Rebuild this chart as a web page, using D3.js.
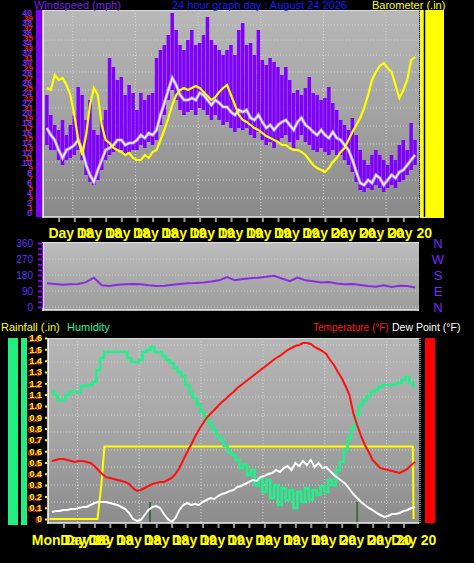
<!DOCTYPE html>
<html><head><meta charset="utf-8">
<script src="https://cdn.jsdelivr.net/npm/d3@7"></script>
<style>body{margin:0;background:#000;}svg{display:block;font-family:"Liberation Sans",Arial,sans-serif;}</style>
</head><body><svg id="c" width="474" height="563"></svg>
<script>
// ---------- DATA ----------
const windGust = [23.6,19.6,17.6,16.6,18.6,15.6,17.6,19.6,25.2,23.6,
18.6,22.6,16.6,15.6,18.6,20.6,31.0,29.2,26.6,27.2,
23.6,25.6,24.0,20.6,24.0,22.6,23.6,24.0,31.0,32.6,
33.6,35.6,40.0,36.6,33.6,32.6,34.6,36.6,33.6,34.0,
35.6,39.2,34.6,33.6,32.6,31.6,32.6,33.6,31.6,36.6,
38.0,33.6,34.0,31.6,36.6,30.6,29.6,31.0,30.2,29.2,
27.6,29.2,26.6,24.0,24.6,23.6,25.0,27.2,24.0,23.6,
22.6,23.0,25.2,22.0,20.6,18.6,17.6,16.6,19.0,15.6,
12.6,10.6,9.6,11.6,12.6,11.6,10.6,9.6,11.6,10.6,
13.6,14.6,12.6,18.0,14.6];
const windAvg = [17.0,15.6,14.6,12.6,11.0,12.6,13.0,13.6,14.6,12.6,
9.6,7.6,6.2,8.6,10.6,12.6,13.0,13.6,14.6,14.6,
13.6,14.0,14.0,14.6,15.6,15.0,16.0,15.6,16.6,19.6,
22.0,24.6,27.0,25.6,23.6,22.6,22.6,23.0,22.6,24.0,
23.6,22.6,21.6,22.6,22.0,21.2,21.2,20.2,19.6,20.6,
20.2,20.6,19.0,18.6,19.6,18.2,17.0,17.6,16.6,17.6,
18.2,18.6,17.6,16.6,18.2,19.0,17.6,17.0,16.2,15.6,
16.6,15.6,15.0,16.2,15.0,14.6,13.6,12.6,10.6,8.2,
6.0,5.6,6.6,6.0,7.6,7.0,5.6,6.6,7.6,7.0,
8.2,8.6,9.6,10.6,11.6];
const windLow = [13.6,12.6,12.6,10.6,9.6,10.6,11.0,11.6,12.6,10.6,
7.6,6.2,5.6,6.6,8.6,10.6,11.6,12.2,12.6,12.6,
11.6,12.2,12.6,12.6,13.6,13.0,14.2,13.6,14.6,17.6,
19.6,22.6,24.6,22.6,20.6,19.6,20.2,20.6,19.6,21.0,
20.6,19.6,18.6,19.6,18.6,17.6,18.2,17.0,16.2,17.0,
16.6,17.0,15.6,15.0,16.2,14.6,13.6,14.2,13.0,14.2,
15.0,15.6,14.2,13.0,14.6,15.6,14.2,13.6,12.6,12.2,
13.0,12.2,11.6,12.6,11.6,11.6,10.6,9.6,8.2,6.2,
4.6,4.2,5.0,4.6,5.6,5.0,4.2,5.0,5.6,5.0,
6.2,6.6,7.6,8.6,9.6];
const barometer = [29.950,29.946,29.976,29.966,29.970,29.956,29.936,29.896,29.846,29.816,
29.856,29.916,29.950,29.936,29.876,29.846,29.840,29.830,29.826,29.822,
29.816,29.820,29.810,29.806,29.806,29.816,29.810,29.822,29.826,29.846,
29.866,29.890,29.916,29.936,29.946,29.950,29.946,29.950,29.954,29.950,
29.942,29.934,29.926,29.932,29.942,29.950,29.956,29.936,29.916,29.896,
29.886,29.882,29.876,29.870,29.866,29.860,29.854,29.850,29.846,29.842,
29.836,29.836,29.830,29.826,29.826,29.822,29.816,29.806,29.796,29.790,
29.786,29.782,29.790,29.802,29.810,29.822,29.830,29.846,29.862,29.876,
29.890,29.910,29.936,29.966,29.982,29.994,30.000,29.990,29.982,29.956,
29.930,29.946,29.966,30.006,30.012];
const windDir = [133,130,125,128,130,140,165,122,118,125,
128,130,128,122,118,120,125,130,133,135,
138,143,150,168,150,158,162,165,170,176,
160,145,165,150,145,138,140,132,128,130,
124,118,114,122,112,120,118,110];
const temperature = [70.5,70.75,71.0,71.0,70.75,70.5,70.25,70.5,70.5,70.25,
70.0,69.25,68.25,67.25,66.5,66.25,66.0,65.75,65.5,65.25,
64.75,63.75,63.0,63.25,63.75,64.25,64.75,65.0,65.25,65.25,
65.75,66.25,67.25,68.75,70.75,72.75,74.5,76.5,78.25,79.75,
81.25,82.25,83.25,84.25,85.25,86.0,87.0,87.75,88.75,89.5,
90.25,91.0,91.75,92.5,93.25,94.0,94.75,95.5,96.25,96.75,
97.5,98.25,98.75,99.25,99.5,100.0,100.0,99.75,99.0,98.5,
98.0,97.25,95.75,94.5,92.75,91.25,89.25,87.0,82.5,79.5,
76.75,74.5,72.75,70.75,69.75,68.75,68.5,68.25,68.0,67.75,
67.5,68.0,68.5,69.5,70.25];
const dewPoint = [57.75,58.0,58.0,58.25,58.25,58.5,58.5,58.75,59.0,59.0,
59.5,60.0,60.25,60.25,60.25,60.0,59.75,59.5,59.0,58.5,
57.5,56.0,55.5,55.75,57.0,58.25,59.0,59.25,58.75,57.25,
56.0,55.25,56.25,58.25,59.5,60.0,59.5,59.75,59.5,60.25,
60.75,61.25,61.0,61.75,62.25,62.5,63.0,63.25,64.0,64.25,
64.75,65.25,65.75,65.5,66.5,66.75,67.25,67.5,68.25,67.75,
68.75,69.25,68.25,70.0,69.25,70.5,69.5,70.75,69.0,70.0,
68.75,69.0,68.0,67.0,66.25,65.5,64.75,63.5,62.25,61.25,
60.25,59.5,58.75,58.25,57.5,57.0,56.5,56.75,57.25,57.25,
57.5,58.0,58.25,58.75,59.0];
const humidity = [71.4,69.2,66.5,66.5,69.2,70.8,70.8,70.8,74.1,74.1,
74.6,76.2,82.7,89.2,92.4,92.4,92.4,92.4,92.4,92.4,
89.2,87.0,87.0,88.1,92.4,93.5,95.1,92.4,92.4,90.3,
88.1,86.5,83.8,81.6,79.5,74.6,70.8,67.6,63.8,60.0,
56.8,53.5,50.3,47.0,44.9,41.6,38.4,36.8,34.1,29.7,
31.4,25.9,28.6,20.5,24.3,16.8,23.2,13.5,20.5,9.7,
18.9,12.4,17.8,8.1,16.8,11.4,18.9,12.4,17.8,15.1,
20.0,16.8,23.2,20.5,28.6,33.0,39.5,45.9,51.4,58.4,
63.8,66.5,68.6,70.8,71.9,73.5,74.6,74.6,74.6,75.1,
75.7,77.3,78.9,75.7,74.1];
const rainHours  = [0.1, 3.2, 3.45, 3.65, 23.6, 23.65];
const rainTotals = [0, 0, 0.30, 0.64, 0.64, 0];
const rainRateHours = [6.6, 20.0];
const rainRate = [0.15, 0.15];

const windTicks = [0,2,4,6,8,10,12,14,16,18,20,22,24,26,28,30,32,34,36,38,40];
const windTicksRed = [1,3,5,7,9,11,13,15,17,19,21,23,25,27,29,31,33,35,37,39];
const dirTicks = [0,90,180,270,360];
const compass = ["N","W","S","E","N"];
const rainTicks = [0,0.1,0.2,0.3,0.4,0.5,0.6,0.7,0.8,0.9,1.0,1.1,1.2,1.3,1.4,1.5,1.6];
const gridHours = [1.9,5.9,9.9,13.9,17.9,21.9];
const topLabelHours = [0.35,2.15,3.95,5.75,7.55,9.35,11.15,12.95,14.75,16.55,18.35,20.15,21.95];
const topLabelText = ["Day 18","Day 18","Day 18","Day 18","Day 19","Day 19","Day 19","Day 19","Day 19","Day 20","Day 20","Day 20","Day 20"];
const botLabelHours = [-1.05,0.8,2.6,4.4,6.2,8.0,9.8,11.6,13.4,15.2,17.0,18.8,20.6,22.2];
const botLabelText = ["Mon Day 18","Day 18","Day 18","Day 18","Day 18","Day 19","Day 19","Day 19","Day 19","Day 19","Day 20","Day 20","Day 20","Day 20"];

// ---------- SETUP ----------
const hours = d3.range(windGust.length).map(i => 0.25 + i * 0.25);
const dirHours = d3.range(windDir.length).map(i => 0.25 + i * 0.5);
const svg = d3.select("#c");
svg.append("rect").attr("width",474).attr("height",563).attr("fill","#000");
const defs = svg.append("defs");
function grad(id, stops){
  const g = defs.append("linearGradient").attr("id",id).attr("x1",0).attr("y1",0).attr("x2",0).attr("y2",1);
  stops.forEach(([o,c]) => g.append("stop").attr("offset",o).attr("stop-color",c));
}
grad("gTop", [[0,"#b8b8b8"],[0.5,"#a3a3a3"],[1,"#898989"]]);
grad("gMid", [[0,"#bdbdbd"],[1,"#9c9c9c"]]);
grad("gBot", [[0,"#b6b6b6"],[0.5,"#a6a6a6"],[1,"#8c8c8c"]]);

const T = {l:43, r:419, t:10, b:217};
const M = {l:43, r:419, t:242, b:310};
const B = {l:48, r:419, t:338, b:523};

const xTop = d3.scaleLinear().domain([0,24]).range([T.l, T.r]);
const yWind = d3.scaleLinear().domain([0,40]).range([213,13]);
const yBaro = d3.scaleLinear().domain([29.70,30.10]).range([213,13]);
const yDir = d3.scaleLinear().domain([0,360]).range([307,243]);
const xBot = d3.scaleLinear().domain([0,24]).range([B.l, B.r]);
const yRain = d3.scaleLinear().domain([0,1.6]).range([519,338]);
const yTemp = d3.scaleLinear().domain([55,101.25]).range([523,338]);
const yHum = d3.scaleLinear().domain([0,100]).range([523,338]);

function clip(id, P){ defs.append("clipPath").attr("id",id).append("rect").attr("x",P.l).attr("y",P.t).attr("width",P.r-P.l).attr("height",P.b-P.t); }
clip("cT",T); clip("cM",M); clip("cB",B);

function panel(P, fill){
  svg.append("rect").attr("x",P.l).attr("y",P.t).attr("width",P.r-P.l).attr("height",P.b-P.t).attr("fill",fill);
}
function vgrid(P, xs){
  svg.append("g").selectAll("line").data(gridHours).join("line")
    .attr("x1",d=>xs(d)).attr("x2",d=>xs(d)).attr("y1",P.t).attr("y2",P.b)
    .attr("stroke","#d4d4d4").attr("stroke-width",1).attr("stroke-dasharray","1,2");
}
function hgrid(P, ys){
  svg.append("g").selectAll("line").data(ys).join("line")
    .attr("x1",P.l).attr("x2",P.r).attr("y1",d=>d).attr("y2",d=>d)
    .attr("stroke","#cfcfcf").attr("stroke-width",1).attr("stroke-dasharray","1,2");
}
function frame(P){
  svg.append("line").attr("x1",P.l).attr("x2",P.l).attr("y1",P.t).attr("y2",P.b+1).attr("stroke","#fff").attr("stroke-width",1.5);
  svg.append("line").attr("x1",P.l).attr("x2",P.r).attr("y1",P.b).attr("y2",P.b).attr("stroke","#f0f0f0").attr("stroke-width",1.5);
  svg.append("line").attr("x1",P.l).attr("x2",P.r).attr("y1",P.t+0.5).attr("y2",P.t+0.5).attr("stroke","#dcdcdc").attr("stroke-width",1);
}

// ---------- TOP PANEL ----------
panel(T, "url(#gTop)");
hgrid(T, [25,40,55,72,90,108,126,144,162,180,198]);
vgrid(T, xTop);
const gT = svg.append("g").attr("clip-path","url(#cT)");
gT.selectAll("rect.g").data(windGust).join("rect").attr("class","g")
  .attr("x",(d,i)=>xTop(hours[i])-1.8).attr("width",3.5)
  .attr("y",d=>yWind(d)).attr("height",(d,i)=>yWind(windLow[i])-yWind(d))
  .attr("fill","#8000ff");
const lineAvg = d3.line().x((d,i)=>xTop(hours[i])).y(d=>yWind(d));
gT.append("path").datum(windAvg).attr("d",lineAvg).attr("fill","none").attr("stroke","#b896f4").attr("stroke-width",3.2);
gT.append("path").datum(windAvg).attr("d",lineAvg).attr("fill","none").attr("stroke","#f4f0ff").attr("stroke-width",1.4);
const lineBaro = d3.line().x((d,i)=>xTop(hours[i])).y(d=>yBaro(d));
gT.append("path").datum(barometer).attr("d",lineBaro).attr("fill","none").attr("stroke","#ffff00").attr("stroke-width",2.2);
frame(T);
svg.append("g").attr("transform",`translate(0,${T.b+1})`)
  .call(d3.axisBottom(xTop).tickValues(d3.range(1,24)).tickFormat("").tickSize(4))
  .call(g=>{g.select(".domain").remove(); g.selectAll("line").attr("stroke","#9a9a9a").attr("stroke-width",2);});
svg.append("rect").attr("x",36).attr("y",T.t).attr("width",6).attr("height",T.b-T.t).attr("fill","#8000ff");
const axWr = svg.append("g").attr("transform","translate(35,0)")
  .call(d3.axisLeft(yWind).tickValues(windTicksRed).tickSize(0).tickFormat(d3.format("d")));
axWr.select(".domain").remove();
axWr.selectAll("text").attr("fill","#ff2020").attr("font-size",8).attr("dx",1).attr("font-weight","bold");
const axW = svg.append("g").attr("transform","translate(35,0)")
  .call(d3.axisLeft(yWind).tickValues(windTicks).tickSize(0).tickFormat(d3.format("d")));
axW.select(".domain").remove();
axW.selectAll("text").attr("fill","#7a28ff").attr("font-size",9).attr("font-weight","bold");
svg.append("rect").attr("x",420).attr("y",T.t).attr("width",24).attr("height",T.b-T.t+1).attr("fill","#ffff00");
svg.append("line").attr("x1",424.5).attr("x2",424.5).attr("y1",T.t).attr("y2",T.b).attr("stroke","#000").attr("stroke-width",1.5);
svg.append("line").attr("x1",420).attr("x2",420).attr("y1",T.t).attr("y2",T.b).attr("stroke","#fff").attr("stroke-dasharray","1,1");
svg.append("text").attr("x",34).attr("y",9).attr("fill","#7a1ee8").attr("font-size",11).text("Windspeed (mph)");
svg.append("text").attr("x",172).attr("y",9).attr("fill","#1a1aff").attr("font-size",11).text("24 hour graph day : August 24 2026");
svg.append("text").attr("x",372).attr("y",9).attr("fill","#ffff00").attr("font-size",11).text("Barometer (.in)");
svg.append("g").selectAll("text").data(topLabelText).join("text")
  .attr("x",(d,i)=>xTop(topLabelHours[i])).attr("y",238)
  .attr("fill","#ffff00").attr("font-size",14).attr("font-weight","bold").text(d=>d);

// ---------- MIDDLE PANEL ----------
panel(M, "url(#gMid)");
hgrid(M, dirTicks.map(d=>yDir(d)));
const gM = svg.append("g").attr("clip-path","url(#cM)");
gM.append("path").datum(windDir)
  .attr("d", d3.line().x((d,i)=>xTop(dirHours[i])).y(d=>yDir(d)))
  .attr("fill","none").attr("stroke","#8a2be2").attr("stroke-width",2);
frame(M);
const axD = svg.append("g").attr("transform","translate(42,0)")
  .call(d3.axisLeft(yDir).tickValues(d3.range(0,361,30)).tickSize(4).tickFormat(""));
axD.select(".domain").attr("stroke","#8000ff");
axD.selectAll("line").attr("stroke","#8000ff").attr("stroke-width",2);
const axD2 = svg.append("g").attr("transform","translate(36,0)")
  .call(d3.axisLeft(yDir).tickValues(dirTicks).tickSize(0));
axD2.select(".domain").remove();
axD2.selectAll("text").attr("fill","#6a2cff").attr("font-size",10);
svg.append("g").selectAll("text").data(compass).join("text")
  .attr("x",438).attr("y",(d,i)=>yDir(360 - i*90)+5).attr("text-anchor","middle")
  .attr("fill","#7a28ff").attr("font-size",13).text(d=>d);

// ---------- BOTTOM PANEL ----------
panel(B, "url(#gBot)");
hgrid(B, [345,362,380,397,415,432,450,467,485,502]);
vgrid(B, xBot);
const gB = svg.append("g").attr("clip-path","url(#cB)");
gB.selectAll("rect.rr").data(rainRate).join("rect").attr("class","rr")
  .attr("x",(d,i)=>xBot(rainRateHours[i])-1).attr("width",2)
  .attr("y",d=>yRain(d)).attr("height",d=>yRain(0)-yRain(d)+4).attr("fill","#3f6a45");
gB.append("path").datum(rainTotals)
  .attr("d", d3.line().x((d,i)=>xBot(rainHours[i])).y(d=>yRain(d)))
  .attr("fill","none").attr("stroke","#ffff00").attr("stroke-width",2);
gB.append("path").datum(humidity)
  .attr("d", d3.line().curve(d3.curveStep).x((d,i)=>xBot(hours[i])).y(d=>yHum(d)))
  .attr("fill","none").attr("stroke","#22f08a").attr("stroke-width",2.6);
gB.append("path").datum(temperature)
  .attr("d", d3.line().x((d,i)=>xBot(hours[i])).y(d=>yTemp(d)))
  .attr("fill","none").attr("stroke","#ff1010").attr("stroke-width",2);
gB.append("path").datum(dewPoint)
  .attr("d", d3.line().x((d,i)=>xBot(hours[i])).y(d=>yTemp(d)))
  .attr("fill","none").attr("stroke","#ffffff").attr("stroke-width",2);
frame(B);
svg.append("g").attr("transform",`translate(0,${B.b+1})`)
  .call(d3.axisBottom(xBot).tickValues(d3.range(1,24)).tickFormat("").tickSize(4))
  .call(g=>{g.select(".domain").remove(); g.selectAll("line").attr("stroke","#9a9a9a").attr("stroke-width",2);});
svg.append("rect").attr("x",8).attr("y",B.t).attr("width",10).attr("height",B.b-B.t+2).attr("fill","#22ee80");
svg.append("rect").attr("x",21).attr("y",B.t).attr("width",6).attr("height",B.b-B.t+2).attr("fill","#22ee80");
const axR1 = svg.append("g").attr("transform","translate(44,1)")
  .call(d3.axisLeft(yRain).tickValues(rainTicks).tickSize(0).tickFormat(d=>d===0?"0":d3.format(".1f")(d)));
axR1.select(".domain").remove();
axR1.selectAll("text").attr("fill","#ff1a1a").attr("font-size",9).attr("font-weight","bold").attr("dx",-1);
const axR = svg.append("g").attr("transform","translate(47,0)")
  .call(d3.axisLeft(yRain).tickValues(rainTicks).tickSize(2).tickFormat(d=>d===0?"0":d3.format(".1f")(d)));
axR.select(".domain").remove();
axR.selectAll("line").attr("stroke","#ffff00").attr("stroke-width",2);
axR.selectAll("text").attr("fill","#ffff00").attr("font-size",9).attr("font-weight","bold");
svg.append("line").attr("x1",420).attr("x2",420).attr("y1",B.t).attr("y2",B.b).attr("stroke","#fff").attr("stroke-dasharray","1,1");
svg.append("line").attr("x1",423).attr("x2",423).attr("y1",B.t).attr("y2",B.b).attr("stroke","#000").attr("stroke-width",2);
svg.append("rect").attr("x",425).attr("y",B.t).attr("width",10).attr("height",B.b-B.t).attr("fill","#ff0000");
svg.append("text").attr("x",1).attr("y",331).attr("fill","#ffff00").attr("font-size",11).text("Rainfall (.in)");
svg.append("text").attr("x",67).attr("y",331).attr("fill","#33ee99").attr("font-size",11).text("Humidity");
svg.append("text").attr("x",313).attr("y",331).attr("fill","#ff1a1a").attr("font-size",10).text("Temperature (°F)");
svg.append("text").attr("x",392).attr("y",331).attr("fill","#ffffff").attr("font-size",10.5).text("Dew Point (°F)");
svg.append("g").selectAll("text").data(botLabelText).join("text")
  .attr("x",(d,i)=>xBot(botLabelHours[i])).attr("y",545)
  .attr("fill","#ffff00").attr("font-size",14).attr("font-weight","bold").text(d=>d);
</script></body></html>
